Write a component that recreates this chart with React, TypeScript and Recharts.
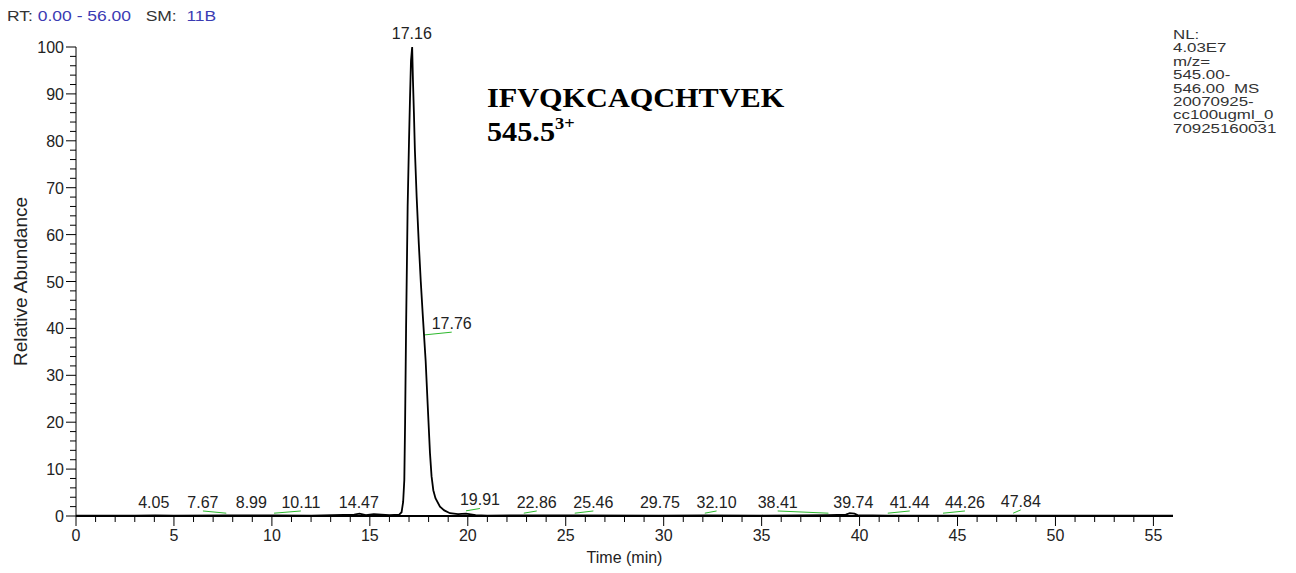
import React from "react";
import { ComposedChart, Line, Scatter, XAxis, YAxis } from "recharts";

// chromatogram trace (retention time in min, relative abundance in %)
const traceTime = [
  0, 3, 4.05, 5, 7.67, 8.99, 10.11, 12, 14.2, 14.47, 14.8, 15.2, 16.0, 16.5,
  16.62, 16.7, 16.76, 16.8, 16.85, 16.93, 17.0, 17.05, 17.1, 17.16, 17.2,
  17.25, 17.3, 17.39, 17.5, 17.6, 17.7, 17.76, 17.85, 17.95, 18.07, 18.15,
  18.24, 18.35, 18.58, 18.8, 19.09, 19.5, 19.91, 20.4, 21, 22.86, 25.46,
  29.75, 32.1, 35, 38.41, 39.3, 39.5, 39.74, 39.9, 41.44, 44.26, 47.84, 50,
  56,
];
const traceAbund = [
  0.1, 0.1, 0.15, 0.1, 0.15, 0.15, 0.15, 0.1, 0.3, 0.5, 0.2, 0.4, 0.2, 0.3,
  0.8, 3, 7.7, 20, 40, 66, 80, 89, 97, 100, 93, 86, 78, 68, 58, 50, 43, 39,
  33, 24, 13.4, 8.5, 5.5, 3.8, 2, 1.2, 0.6, 0.4, 0.5, 0.2, 0.1, 0.15, 0.15,
  0.1, 0.15, 0.1, 0.2, 0.3, 0.6, 0.5, 0.2, 0.1, 0.1, 0.1, 0.1, 0.1,
];

// labelled peaks
const peakRt = [
  4.05, 7.67, 8.99, 10.11, 14.47, 17.16, 17.76, 19.91, 22.86, 25.46, 29.75,
  32.1, 38.41, 39.74, 41.44, 44.26, 47.84,
];
const peakApex = [
  0.6, 0.6, 0.6, 0.6, 0.6, 100, 38.6, 1.1, 0.6, 0.6, 0.6, 0.6, 0.6, 0.6, 0.6,
  0.6, 0.6,
];
const labelRt = [
  3.97, 6.48, 8.95, 11.48, 14.44, 17.14, 19.18, 20.62, 23.52, 26.41, 29.81,
  32.7, 35.82, 39.68, 42.56, 45.38, 48.23,
];
const labelAbund = [
  1.07, 1.07, 1.07, 1.07, 1.07, 100, 39.2, 1.6, 1.07, 1.07, 1.07, 1.07, 1.07,
  1.07, 1.07, 1.07, 1.3,
];

const xTicks = Array.from({ length: 56 }, (_, i) => i);
const yTicks = Array.from({ length: 51 }, (_, i) => i * 2);

const infoLines = [
  "NL:",
  "4.03E7",
  "m/z=",
  "545.00-",
  "546.00  MS",
  "20070925-",
  "cc100ugml_0",
  "70925160031",
];

const trace = traceTime.map((t, i) => ({ t, v: traceAbund[i] }));
const labels = peakRt.map((rt, i) => ({
  t: labelRt[i],
  v: labelAbund[i],
  text: rt.toFixed(2),
  top: labelAbund[i] >= 100,
}));
const connectors = peakRt
  .map((rt, i) => [
    { t: rt, v: peakApex[i] },
    { t: labelRt[i], v: labelAbund[i] },
  ])
  .filter((seg) => Math.abs(seg[1].t - seg[0].t) > 0.3);

const FONT = "'Liberation Sans', Arial, sans-serif";
const SERIF = "'Liberation Serif', 'Times New Roman', serif";
const INK = "#222";

const XTick = ({ x, y, payload }: any) => {
  const major = payload.value % 5 === 0;
  return (
    <g>
      <line x1={x} y1={y} x2={x} y2={y + (major ? 10 : 6)} stroke="#000" />
      {major && (
        <text x={x} y={y + 25} textAnchor="middle" fontFamily={FONT} fontSize={16} fill={INK}>
          {payload.value}
        </text>
      )}
    </g>
  );
};

const YTick = ({ x, y, payload }: any) => {
  const major = payload.value % 10 === 0;
  return (
    <g>
      <line x1={x - (major ? 10 : 6)} y1={y} x2={x} y2={y} stroke="#000" />
      {major && (
        <text x={x - 12} y={y + 6} textAnchor="end" fontFamily={FONT} fontSize={16} fill={INK}>
          {payload.value}
        </text>
      )}
    </g>
  );
};

const PeakLabel = ({ cx, cy, payload }: any) => (
  <text
    x={cx}
    y={cy - (payload.top ? 8 : 3)}
    textAnchor="middle"
    fontFamily={FONT}
    fontSize={16}
    fill={INK}
  >
    {payload.text}
  </text>
);

export default function App() {
  return (
    <div style={{ position: "absolute", left: 0, top: 0, width: 1296, height: 573, background: "#fff" }}>
      <ComposedChart
        width={1296}
        height={573}
        margin={{ top: 47, right: 123, left: 16, bottom: 17 }}
      >
        <XAxis
          dataKey="t"
          type="number"
          domain={[0, 56]}
          ticks={xTicks}
          interval={0}
          tickSize={0}
          tickMargin={0}
          tickLine={false}
          tick={<XTick />}
          height={40}
          axisLine={{ stroke: "#000", strokeWidth: 2 }}
          label={({ viewBox }: any) => (
            <text
              x={viewBox.x + viewBox.width / 2}
              y={viewBox.y + 47}
              textAnchor="middle"
              fontFamily={FONT}
              fontSize={16}
              fill={INK}
            >
              Time (min)
            </text>
          )}
        />
        <YAxis
          dataKey="v"
          type="number"
          domain={[0, 100]}
          ticks={yTicks}
          interval={0}
          tickSize={0}
          tickMargin={0}
          tickLine={false}
          tick={<YTick />}
          width={60}
          axisLine={{ stroke: "#000", strokeWidth: 1 }}
          label={({ viewBox }: any) => (
            <text
              x={27}
              y={viewBox.y + viewBox.height / 2}
              transform={`rotate(-90 27 ${viewBox.y + viewBox.height / 2})`}
              textAnchor="middle"
              fontFamily={FONT}
              fontSize={19}
              fill={INK}
            >
              Relative Abundance
            </text>
          )}
        />
        {connectors.map((seg, i) => (
          <Line
            key={i}
            data={seg}
            dataKey="v"
            stroke="#2db82d"
            strokeWidth={1}
            dot={false}
            isAnimationActive={false}
          />
        ))}
        <Line
          data={trace}
          dataKey="v"
          type="linear"
          stroke="#000"
          strokeWidth={1.8}
          dot={false}
          isAnimationActive={false}
        />
        <Scatter data={labels} shape={<PeakLabel />} isAnimationActive={false} />
      </ComposedChart>
      <svg
        width={1296}
        height={573}
        style={{ position: "absolute", left: 0, top: 0, pointerEvents: "none" }}
      >
        <g transform="translate(7 21) scale(1.25 1)">
          <text x={0} y={0} fontFamily={FONT} fontSize={14} fill="#333" style={{ whiteSpace: "pre" }}>
            {"RT: "}
            <tspan fill="#3b3bb3">{"0.00 - 56.00"}</tspan>
            {"   SM:  "}
            <tspan fill="#3b3bb3">11B</tspan>
          </text>
        </g>
        <g transform="translate(1173 0) scale(1.3 1)">
          <text fontFamily={FONT} fontSize={13} fill="#333" style={{ whiteSpace: "pre" }}>
            {infoLines.map((s, i) => (
              <tspan key={i} x={0} y={39 + i * 13.4}>
                {s}
              </tspan>
            ))}
          </text>
        </g>
        <g transform="translate(487 0) scale(1.08 1)">
          <text x={0} y={107} fontFamily={SERIF} fontWeight="bold" fontSize={28} fill="#000">
            IFVQKCAQCHTVEK
          </text>
          <text x={0} y={141} fontFamily={SERIF} fontWeight="bold" fontSize={28} fill="#000">
            545.5
            <tspan fontSize={17} dy={-12}>3+</tspan>
          </text>
        </g>
      </svg>
    </div>
  );
}
